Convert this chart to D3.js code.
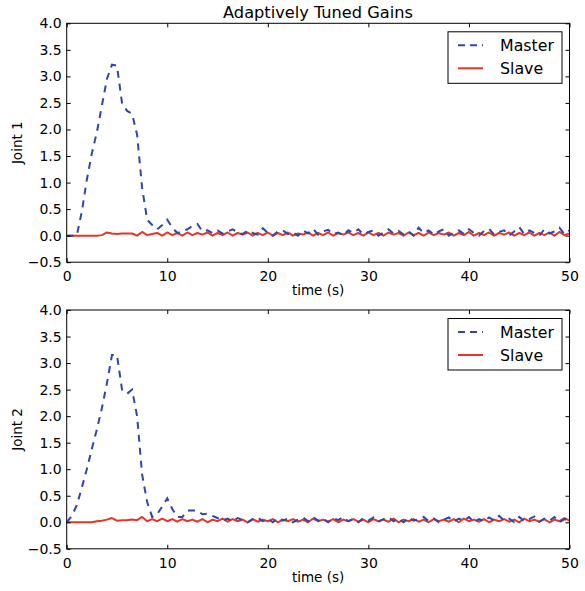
<!DOCTYPE html>
<html><head><meta charset="utf-8">
<script src="https://cdn.jsdelivr.net/npm/d3@7"></script>
<style>body{margin:0;background:#fff}svg{display:block}</style>
</head><body>
<script>
const title = "Adaptively Tuned Gains";
const jointLabels = ["Joint 1", "Joint 2"];
const seriesNames = ["Master", "Slave"];
const xTicks = [0, 10, 20, 30, 40, 50];
const yTicks = [-0.5, 0.0, 0.5, 1.0, 1.5, 2.0, 2.5, 3.0, 3.5, 4.0];
const time = [0,0.5,1,1.5,2,2.5,3,3.5,4,4.5,5,5.5,6,6.5,7,7.5,8,8.5,9,9.5,10,10.5,11,11.5,12,12.5,13,13.5,14,14.5,15,15.5,16,16.5,17,17.5,18,18.5,19,19.5,20,20.5,21,21.5,22,22.5,23,23.5,24,24.5,25,25.5,26,26.5,27,27.5,28,28.5,29,29.5,30,30.5,31,31.5,32,32.5,33,33.5,34,34.5,35,35.5,36,36.5,37,37.5,38,38.5,39,39.5,40,40.5,41,41.5,42,42.5,43,43.5,44,44.5,45,45.5,46,46.5,47,47.5,48,48.5,49,49.5,50];
const master1 = [0,0,0,0.45,1.05,1.55,1.95,2.45,2.95,3.22,3.2,2.5,2.35,2.3,1.9,0.9,0.3,0.2,0.12,0.2,0.3,0.15,0.05,0.08,0.12,0.18,0.22,0.08,0.1,0.05,0.1,0.04,0.08,0.12,0.06,0.03,0.1,0.05,0.02,0.14,0.05,0.0,0.08,0.1,0.03,0.06,0.0,0.1,0.04,0.13,0.02,0.08,0.11,0.03,0.06,0.0,0.1,0.05,0.12,0.02,0.07,0.1,0.0,0.06,0.12,0.04,0.09,0.02,0.08,0.0,0.15,0.05,0.1,0.02,0.08,0.12,0.0,0.06,0.1,0.03,0.12,0.05,0.0,0.09,0.13,0.02,0.07,0.1,0.0,0.08,0.16,0.03,0.1,0.05,0.0,0.12,0.04,0.08,0.15,0.03,0.1];
const slave1 = [0,0,0,0,0,0,0,0.01,0.06,0.04,0.03,0.04,0.04,0.04,0.0,0.07,0.01,0.03,0.05,0.0,0.06,0.01,0.05,0.0,0.06,0.01,0.05,0.02,0.06,0.0,0.05,0.01,0.06,0.0,0.05,0.02,0.06,0.0,0.05,0.01,0.06,0.0,0.05,0.01,0.06,0.0,0.04,0.02,0.06,0.0,0.05,0.01,0.06,0.0,0.05,0.02,0.06,0.01,0.05,0.0,0.06,0.01,0.05,0.0,0.06,0.02,0.05,0.0,0.06,0.01,0.05,0.0,0.06,0.01,0.05,0.02,0.06,0.0,0.05,0.01,0.07,0.0,0.05,0.01,0.06,0.0,0.05,0.02,0.06,0.0,0.05,0.01,0.06,0.0,0.05,0.01,0.06,0.0,0.07,0.01,0.04];
const master2 = [0,0.12,0.32,0.65,1.0,1.38,1.75,2.15,2.62,3.15,3.15,2.5,2.42,2.5,2.0,0.9,0.38,0.1,0.15,0.3,0.45,0.25,0.1,0.1,0.22,0.22,0.22,0.15,0.16,0.12,0.08,0.03,0.07,0.02,0.08,0.04,0.0,0.06,0.09,0.02,0.06,0.0,0.08,0.03,0.07,0.0,0.05,0.09,0.02,0.1,0.03,0.07,0.0,0.08,0.04,0.1,0.02,0.06,0.0,0.08,0.03,0.09,0.01,0.06,0.1,0.02,0.07,0.0,0.09,0.03,0.06,0.1,0.02,0.07,0.0,0.05,0.09,0.01,0.07,0.03,0.1,0.0,0.06,0.02,0.09,0.04,0.12,0.03,0.07,0.0,0.1,0.02,0.06,0.11,0.01,0.07,0.03,0.1,0.0,0.06,0.02];
const slave2 = [0,0,0,0,0,0,0.02,0.03,0.05,0.08,0.03,0.04,0.04,0.05,0.04,0.1,0.02,0.06,0.02,0.07,0.02,0.06,0.01,0.06,0.02,0.05,0.01,0.06,0.0,0.05,0.02,0.07,0.01,0.06,0.02,0.05,0.0,0.06,0.01,0.05,0.02,0.06,0.0,0.05,0.02,0.06,0.01,0.05,0.0,0.07,0.02,0.05,0.01,0.06,0.0,0.05,0.02,0.06,0.01,0.05,0.0,0.06,0.02,0.05,0.01,0.07,0.0,0.05,0.02,0.06,0.01,0.05,0.0,0.06,0.02,0.05,0.01,0.06,0.0,0.07,0.02,0.05,0.01,0.06,0.0,0.05,0.02,0.06,0.01,0.05,0.0,0.07,0.02,0.05,0.01,0.06,0.0,0.05,0.02,0.08,0.03];

const W = 585, H = 591;
const colors = {Master: "#3146a6", Slave: "#e3352b"};
const font = "'DejaVu Sans', sans-serif";
const svg = d3.select("body").append("svg").attr("width", W).attr("height", H)
  .style("font-family", font);

svg.append("text").attr("x", 318).attr("y", 18).attr("text-anchor", "middle")
  .attr("font-size", 16.2).attr("fill", "#000").text(title);

const panels = [
  {top: 23.3, bottom: 262.2, master: master1, slave: slave1, label: jointLabels[0]},
  {top: 310, bottom: 548.8, master: master2, slave: slave2, label: jointLabels[1]}
];
const left = 66.7, right = 569.5;

panels.forEach(p => {
  const x = d3.scaleLinear().domain([0, 50]).range([left, right]);
  const y = d3.scaleLinear().domain([-0.5, 4.0]).range([p.bottom, p.top]);
  const g = svg.append("g");

  const clipId = "clip" + Math.round(p.top);
  svg.append("clipPath").attr("id", clipId).append("rect")
    .attr("x", left).attr("y", p.top).attr("width", right - left).attr("height", p.bottom - p.top);

  const line = d3.line().x((d, i) => x(time[i])).y(d => y(d));
  const lg = g.append("g").attr("clip-path", `url(#${clipId})`);
  lg.append("path").datum(p.slave).attr("d", line).attr("fill", "none")
    .attr("stroke", colors.Slave).attr("stroke-width", 2).attr("stroke-linejoin", "round");
  lg.append("path").datum(p.master).attr("d", line).attr("fill", "none")
    .attr("stroke", colors.Master).attr("stroke-width", 2).attr("stroke-dasharray", "7,6");

  const tickStyle = sel => {
    sel.select(".domain").remove();
    sel.selectAll(".tick line").attr("stroke", "#000").attr("stroke-width", 1);
    sel.selectAll(".tick text").attr("font-size", 14).attr("fill", "#000").style("font-family", font);
  };
  const fmtY = d => (d < 0 ? "\u2212" : "") + Math.abs(d).toFixed(1);

  g.append("g").attr("transform", `translate(0,${p.bottom})`)
    .call(d3.axisBottom(x).tickValues(xTicks).tickSizeInner(-4).tickSizeOuter(0).tickPadding(9).tickFormat(d3.format("d")))
    .call(tickStyle);
  g.append("g").attr("transform", `translate(0,${p.top})`)
    .call(d3.axisTop(x).tickValues(xTicks).tickSizeInner(-4).tickSizeOuter(0).tickFormat(""))
    .call(tickStyle);
  g.append("g").attr("transform", `translate(${left},0)`)
    .call(d3.axisLeft(y).tickValues(yTicks).tickSizeInner(-4).tickSizeOuter(0).tickPadding(5).tickFormat(fmtY))
    .call(tickStyle);
  g.append("g").attr("transform", `translate(${right},0)`)
    .call(d3.axisRight(y).tickValues(yTicks).tickSizeInner(-4).tickSizeOuter(0).tickFormat(""))
    .call(tickStyle);

  g.append("rect").attr("x", left).attr("y", p.top).attr("width", right - left)
    .attr("height", p.bottom - p.top).attr("fill", "none").attr("stroke", "#000").attr("stroke-width", 1);

  svg.append("text").attr("x", (left + right) / 2).attr("y", p.bottom + 33)
    .attr("text-anchor", "middle").attr("font-size", 13.5).text("time (s)");
  svg.append("text").attr("transform", `translate(22,${(p.top + p.bottom) / 2}) rotate(-90)`)
    .attr("text-anchor", "middle").attr("font-size", 13.5).text(p.label);

  // legend
  const lx = 448, ly = p.top + 8.5;
  const leg = svg.append("g").attr("transform", `translate(${lx},${ly})`);
  leg.append("rect").attr("width", 114).attr("height", 51.5).attr("fill", "#fff")
    .attr("stroke", "#000").attr("stroke-width", 1);
  seriesNames.forEach((name, i) => {
    const cy = 13.5 + i * 23;
    leg.append("line").attr("x1", 10).attr("x2", 35).attr("y1", cy).attr("y2", cy)
      .attr("stroke", colors[name]).attr("stroke-width", 2)
      .attr("stroke-dasharray", name === "Master" ? "7,5" : null);
    leg.append("text").attr("x", 52).attr("y", cy).attr("dy", "0.35em")
      .attr("font-size", 15.8).text(name);
  });
});
</script>
</body></html>
